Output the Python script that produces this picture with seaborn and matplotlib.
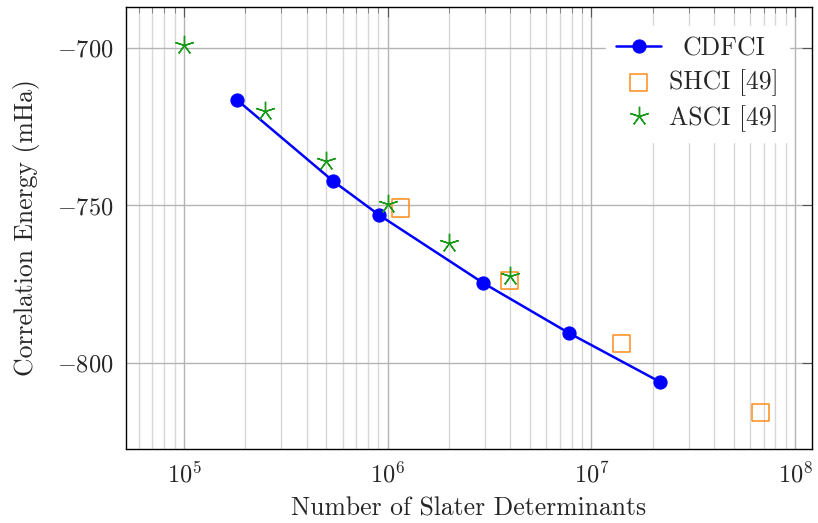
import numpy as np
import pandas as pd
import matplotlib
matplotlib.use("Agg")
import matplotlib.pyplot as plt
import matplotlib.ticker as mticker
import matplotlib.transforms as mtransforms
import seaborn as sns

# data
cdfci_n = [1.82e5, 5.38e5, 9.06e5, 2.94e6, 7.76e6, 2.17e7]
cdfci_e = [-716.5, -742.2, -753.0, -774.6, -790.5, -806.0]
shci_n = [1.15e6, 3.98e6, 1.40e7, 6.73e7]
shci_e = [-750.8, -773.7, -793.7, -815.6]
asci_n = [1.0e5, 2.5e5, 5.0e5, 1.0e6, 2.0e6, 4.0e6]
asci_e = [-699.0, -720.0, -735.9, -749.5, -761.9, -772.4]

labels = ["CDFCI", "SHCI [49]", "ASCI [49]"]
yticks = [-700, -750, -800]

sns.set_style("white")
plt.rcParams.update({
    "font.family": "serif",
    "font.serif": ["cmr10", "DejaVu Serif"],
    "mathtext.fontset": "cm",
    "axes.formatter.use_mathtext": True,
    "axes.unicode_minus": True,
    "font.size": 18,
})

df_c = pd.DataFrame({"n": cdfci_n, "e": cdfci_e})
df_s = pd.DataFrame({"n": shci_n, "e": shci_e})
df_a = pd.DataFrame({"n": asci_n, "e": asci_e})

fig = plt.figure(figsize=(8.18, 5.23), dpi=100)
ax = fig.add_axes([126/818, 1-449/523, (812-126)/818, (449-7)/523])

ax.set_xscale("log")
ax.set_xlim(5.19e4, 1.21e8)
ax.set_ylim(-827.3, -687.0)

sns.lineplot(data=df_c, x="n", y="e", ax=ax, color="#0000ff", lw=1.8,
             marker="o", markersize=9.5, markeredgecolor="#0000ff",
             label=labels[0], zorder=4)
sns.scatterplot(data=df_s, x="n", y="e", ax=ax, marker="s", s=150,
                facecolor="none", edgecolor="#ff8c1a", linewidth=1.1,
                label=labels[1], zorder=5)
ax.plot(asci_n, asci_e, linestyle="none", marker=(5, 2, 0), markersize=14,
        color="#1a9a1a", markeredgewidth=1.0, label=labels[2], zorder=6)

ax.set_yticks(yticks)
ax.xaxis.set_major_locator(mticker.LogLocator(base=10, numticks=10))
ax.xaxis.set_minor_locator(mticker.LogLocator(base=10, subs=np.arange(2, 10), numticks=20))
ax.xaxis.set_minor_formatter(mticker.NullFormatter())

ax.grid(True, which="major", axis="both", color="#b4b4b4", lw=1.0)
ax.grid(True, which="minor", axis="x", color="#d8d8d8", lw=1.0)
ax.set_axisbelow(True)

ax.tick_params(which="major", direction="in", length=7, width=0.8,
               top=True, right=True, labelsize=17.5, pad=9, color="#555555")
ax.tick_params(which="minor", direction="in", length=4, width=0.6,
               top=True, right=True, color="#777777")
for sp in ax.spines.values():
    sp.set_color("black")
    sp.set_linewidth(1.0)

ax.set_xlabel("Number of Slater Determinants", fontsize=18.5, labelpad=7)
ax.set_ylabel("Correlation Energy (mHa)", fontsize=18.5, labelpad=12)

leg = ax.legend(loc="upper right", frameon=True, fancybox=False, edgecolor="white",
                framealpha=1.0, fontsize=18.5, handlelength=1.75, handletextpad=0.3,
                borderpad=0.4, labelspacing=0.35, bbox_to_anchor=(0.985, 0.985))

# center legend texts within their column (as in the reference)
fig.canvas.draw()
r = fig.canvas.get_renderer()
texts = leg.get_texts()
widths = [t.get_window_extent(r).width for t in texts]
wmax = max(widths)
for t, w in zip(texts, widths):
    dx = (wmax - w) / 2.0
    if dx > 0.5:
        t.set_transform(t.get_transform() + mtransforms.Affine2D().translate(dx, 0))

fig.savefig("out.png", dpi=100)
